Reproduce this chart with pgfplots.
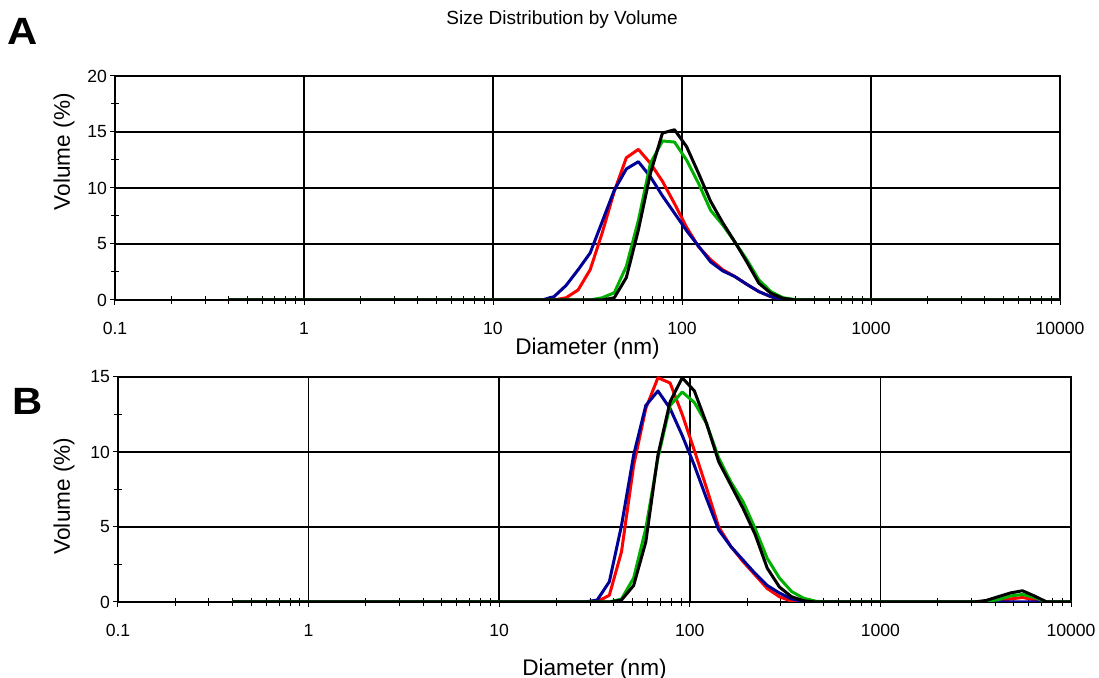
\documentclass[border=0pt]{standalone}
\usepackage{pgfplots}
\pgfplotsset{compat=1.18}
\usepackage{pgfplotstable}
\usepackage{fontspec}
\setmainfont{Liberation Sans}

\definecolor{cRed}{RGB}{255,0,0}
\definecolor{cBlue}{RGB}{0,0,150}
\definecolor{cGreen}{RGB}{0,176,0}
\definecolor{cBlack}{RGB}{0,0,0}

\pgfkeys{/pgf/number format/assume math mode=true}

% Volume distributions (%), size classes in nm
\pgfplotstableread{
d      red    blue   green  black
0.4    0      0      0      0
18.17  0      0      0      0
21.03  0      0.3    0      0
24.36  0.2    1.3    0      0
28.21  0.9    2.7    0      0
32.67  2.7    4.2    0      0
37.84  6.0    7.0    0.2    0
43.82  9.7    9.8    0.65   0.2
50.75  12.7   11.7   3.0    2.0
58.77  13.45  12.35  7.1    6.25
68.06  12.2   11.0   12.2   11.3
78.82  10.6   9.3    14.2   14.9
91.28  8.6    7.75   14.1   15.2
105.7  6.5    6.2    12.5   13.7
122.4  4.75   4.8    10.4   11.3
141.8  3.6    3.4    8.0    8.8
164.2  2.7    2.6    6.7    6.9
190.1  2.1    2.1    5.2    5.2
220.2  1.4    1.4    3.6    3.4
255.0  0.75   0.75   1.8    1.5
295.3  0.3    0.3    0.75   0.6
342.0  0.05   0.05   0.2    0.15
396.1  0      0      0.05   0
458.7  0      0      0      0
10000  0      0      0      0
}\distA

\pgfplotstableread{
d      red    blue   green  black
0.4    0      0      0      0
28.21  0      0      0      0
32.67  0.02   0.13   0      0
37.84  0.45   1.35   0      0
43.82  3.35   5.1    0.2    0.13
50.75  9.1    9.8    1.6    1.1
58.77  12.9   13.1   4.9    4.0
68.06  14.95  14.07  9.6    9.8
78.82  14.6   12.9   13.1   13.35
91.28  12.5   11.1   14.0   14.95
105.7  10.1   9.1    13.3   14.07
122.4  7.6    6.9    11.9   11.9
141.8  5.0    4.8    9.6    9.35
164.2  3.7    3.7    8.0    7.8
190.1  2.7    2.8    6.7    6.25
220.2  1.8    1.9    4.9    4.5
255.0  0.9    1.1    2.9    2.25
295.3  0.35   0.6    1.6    1.0
342.0  0.05   0.2    0.7    0.35
396.1  0      0.05   0.25   0.08
458.7  0      0      0.05   0
531.2  0      0      0      0
3091   0      0      0      0
3580   0      0      0.05   0.1
4145   0.05   0      0.15   0.35
4801   0.2    0      0.4    0.6
5560   0.3    0      0.5    0.75
6439   0.15   0      0.3    0.4
7456   0      0      0      0
10000  0      0      0      0
}\distB

\pgfplotsset{
  dlsaxis/.style={
    scale only axis,
    xmin=0.1, xmax=10000, ymin=0,
    xtick={0.1,1,10,100,1000,10000},
    xticklabels={0.1,1,10,100,1000,10000},
    minor xtick={0.2,0.3,0.4,0.5,0.6,0.7,0.8,0.9,
                 2,3,4,5,6,7,8,9,20,30,40,50,60,70,80,90,
                 200,300,400,500,600,700,800,900,
                 2000,3000,4000,5000,6000,7000,8000,9000},
    xmajorgrids, ymajorgrids,
    major grid style={black, line width=0.8pt},
    axis line style={black, line width=0.8pt},
    tick style={black, line width=0.5pt},
    tick align=center, major tick length=5pt, minor tick length=4pt,
    xtick pos=left, ytick pos=left,
    tick label style={font=\fontsize{8.8}{10}\selectfont},
    label style={font=\fontsize{11.3}{13}\selectfont},
    xticklabel style={yshift=-5pt},
    yticklabel style={xshift=2pt},
    every axis plot/.append style={line width=1.5pt, no markers, line join=round},
  }
}

\begin{document}
\begin{tikzpicture}
\path[use as bounding box] (0,0) rectangle (549.5pt,-339pt);

\node[font=\fontsize{9.5}{11}\selectfont] at (281pt,-10pt) {Size Distribution by Volume};
\node[font=\fontsize{19}{21}\selectfont\bfseries, xscale=1.1] at (11.5pt,-15.75pt) {A};
\node[font=\fontsize{19}{21}\selectfont\bfseries, xscale=1.1] at (13.75pt,-200.75pt) {B};

\begin{semilogxaxis}[dlsaxis, name=axA,
  at={(57.5pt,-150pt)}, anchor=south west,
  width=472.5pt, height=112pt,
  ymax=20, ytick={0,5,10,15,20}, yticklabels={0,5,10,15,20},
  minor ytick={2.5,7.5,12.5,17.5},
  xlabel={Diameter (nm)},
  xlabel style={at={(axis description cs:0.5,0)}, anchor=center, yshift=-24.5pt},
]
\addplot[cRed]   table[x=d, y=red]   {\distA};
\addplot[cBlue]  table[x=d, y=blue]  {\distA};
\addplot[cGreen] table[x=d, y=green] {\distA};
\addplot[cBlack] table[x=d, y=black] {\distA};
\end{semilogxaxis}

\begin{semilogxaxis}[dlsaxis, name=axB,
  at={(59pt,-301pt)}, anchor=south west,
  width=476.5pt, height=112.5pt,
  ymax=15, ytick={0,5,10,15}, yticklabels={0,5,10,15},
  minor ytick={2.5,7.5,12.5},
  xlabel={Diameter (nm)},
  xlabel style={at={(axis description cs:0.5,0)}, anchor=center, yshift=-34pt},
]
\addplot[cRed]   table[x=d, y=red]   {\distB};
\addplot[cBlue]  table[x=d, y=blue]  {\distB};
\addplot[cGreen] table[x=d, y=green] {\distB};
\addplot[cBlack] table[x=d, y=black] {\distB};
\end{semilogxaxis}

% vertical axis titles
\node[font=\fontsize{11.3}{13}\selectfont, rotate=90, anchor=center]
  at ([xshift=-25.5pt, yshift=74.15pt]axA.south west) {Volume (\%)};
\node[font=\fontsize{11.3}{13}\selectfont, rotate=90, anchor=center]
  at ([xshift=-27pt, yshift=53pt]axB.south west) {Volume (\%)};
\end{tikzpicture}
\end{document}
